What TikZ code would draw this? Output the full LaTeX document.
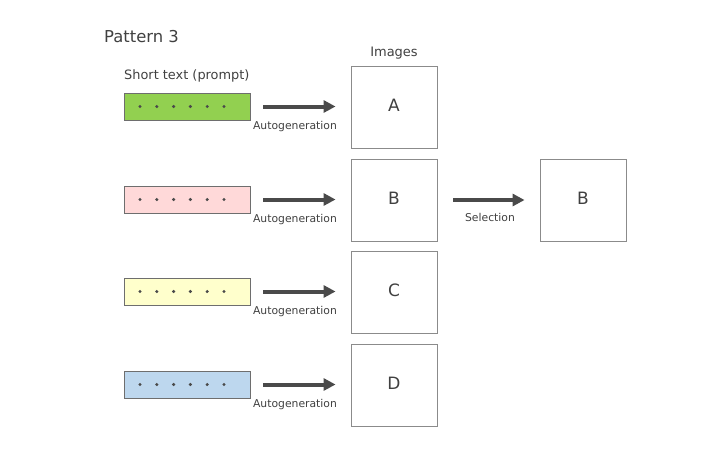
\documentclass[tikz,border=0pt]{standalone}
\usepackage{fontspec}
\setmainfont{DejaVu Sans}
\usetikzlibrary{arrows.meta}
\definecolor{txt}{HTML}{404040}
\definecolor{arrc}{HTML}{4A4A4A}
\definecolor{bord}{HTML}{6E6E6E}
\definecolor{gfill}{HTML}{92D050}
\definecolor{pfill}{HTML}{FFD9D9}
\definecolor{yfill}{HTML}{FFFFCC}
\definecolor{bfill}{HTML}{BDD7EE}
\tikzset{
  promptbox/.style={draw=bord, line width=0.9pt, minimum width=126pt, minimum height=27pt, inner sep=0pt},
  imgbox/.style={draw=bord!80, line width=0.9pt, minimum width=86pt, minimum height=82pt, inner sep=0pt, font=\fontsize{17}{19}\selectfont, text=txt, text depth=4pt},
  arr/.style={draw=arrc, line width=4pt, -{Triangle[length=12pt,width=12pt]}},
  lbl/.style={font=\fontsize{10.8}{12}\selectfont, text=txt, inner sep=0pt, anchor=base},
  dotc/.style={fill=arrc, draw=none}
}
\begin{document}
\begin{tikzpicture}[x=1pt,y=-1pt]
\useasboundingbox (0,0) rectangle (720,450);
\node[anchor=base west, font=\fontsize{16.4}{18}\selectfont, text=txt, inner sep=0pt] (title) at (104,42.5) {Pattern 3};
\node[anchor=base, font=\fontsize{13}{15}\selectfont, text=txt, inner sep=0pt] (images) at (394,56) {Images};
\node[anchor=base west, font=\fontsize{12.9}{15}\selectfont, text=txt, inner sep=0pt] (short) at (124,79) {Short text (prompt)};
\foreach \i/\y/\c/\l in {1/106.5/gfill/A, 2/199.5/pfill/B, 3/291.5/yfill/C, 4/384.5/bfill/D}{
  \node[promptbox, fill=\c] (t\i) at (187,\y) {};
  \foreach \k in {0,...,5}{
    \fill[dotc] (140+\k*16.8,\y) circle (1.7pt);
  }
  \node[imgbox] (i\i) at (394,\y+0.5) {\l};
  \coordinate (s\i) at ([xshift=13pt]t\i.east);
  \coordinate (e\i) at ([xshift=-15pt]i\i.west);
  \draw[arr] (s\i) -- (e\i |- s\i);
  \node[lbl] (a\i) at (295,\y+22.5) {Autogeneration};
}
\node[imgbox] (sel) at (583,200) {B};
\coordinate (ss) at ([xshift=16pt]i2.east);
\coordinate (se) at ([xshift=-15pt]sel.west);
\draw[arr] (ss) -- (se);
\node[lbl] (sl) at (490,221.5) {Selection};
\end{tikzpicture}
\end{document}
